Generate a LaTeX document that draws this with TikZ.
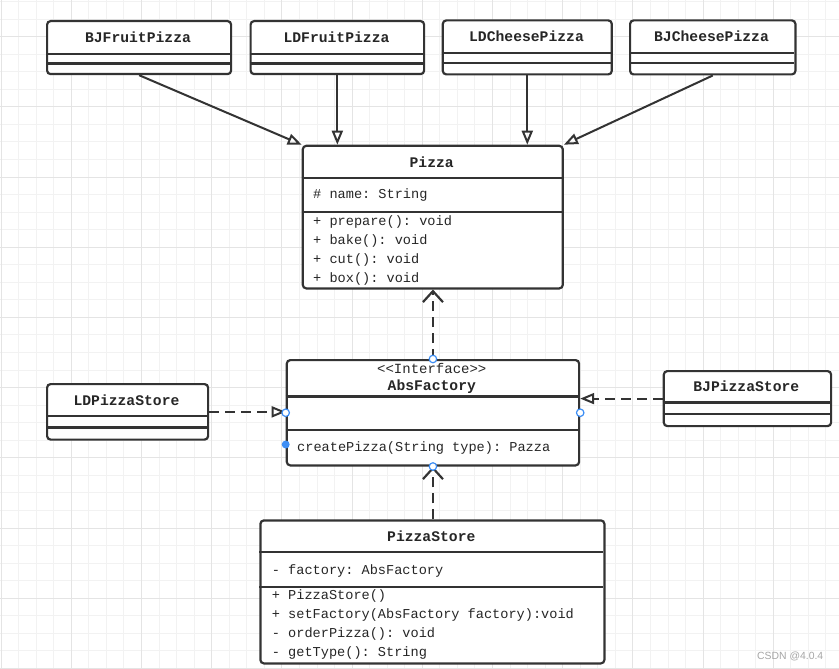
\documentclass[tikz,border=0pt]{standalone}
\usepackage{fontspec}
\setmonofont{Liberation Mono}
\newfontfamily\wmfont{Liberation Sans}
\usetikzlibrary{arrows.meta}
\definecolor{linec}{HTML}{333333}
\definecolor{textc}{HTML}{262626}
\definecolor{gridminor}{HTML}{F2F2F2}
\definecolor{gridmajor}{HTML}{E4E4E4}
\definecolor{handle}{HTML}{3D8EF5}
\definecolor{wmc}{HTML}{A6A6A6}
\tikzset{
 cls/.style={draw=linec, line width=2.2pt, rounded corners=3.5pt, fill=white, inner sep=0pt, anchor=north west},
 sepl/.style={draw=linec, line width=2.2pt},
 ttl/.style={font=\fontsize{14.7}{17}\selectfont\ttfamily\bfseries, text=textc, inner sep=0pt},
 mem/.style={font=\fontsize{13.6}{16}\selectfont\ttfamily, text=textc, inner sep=0pt, anchor=west},
 memc/.style={font=\fontsize{14}{16}\selectfont\ttfamily, text=textc, inner sep=0pt},
 gen/.style={draw=linec, line width=2pt, -{Triangle[open, length=14pt, width=11pt]}},
 real/.style={gen, dash pattern=on 10pt off 6pt},
 dep/.style={draw=linec, line width=2.2pt, dash pattern=on 10pt off 6pt, -{Straight Barb[length=11pt, width=20pt]}},
 hnd/.style={circle, draw=handle, fill=white, line width=1.2pt, minimum size=7.5pt, inner sep=0pt},
 hndf/.style={circle, fill=handle, minimum size=8pt, inner sep=0pt},
}
\begin{document}
\begin{tikzpicture}[x=1pt,y=-1pt]
\useasboundingbox (0,0) rectangle (839,669);
\fill[white] (0,0) rectangle (839,669);
% grid
\foreach \i in {0,...,47}{\draw[gridminor, line width=0.8pt] ({1+17.55*\i},0) -- ({1+17.55*\i},669);}
\foreach \j in {0,...,38}{\draw[gridminor, line width=0.8pt] (0,{1.4+17.55*\j}) -- (839,{1.4+17.55*\j});}
\foreach \i in {0,4,...,44}{\draw[gridmajor, line width=0.8pt] ({1+17.55*\i},0) -- ({1+17.55*\i},669);}
\foreach \j in {2,6,...,38}{\draw[gridmajor, line width=0.8pt] (0,{1.4+17.55*\j}) -- (839,{1.4+17.55*\j});}

% top classes
\node[cls, minimum width=184pt, minimum height=53pt] (bjf) at (46,20) {};
\draw[sepl] (46,54) -- (230,54); \draw[sepl] (46,63.5) -- (230,63.5);
\node[ttl] (bjft) at (138,37.5) {BJFruitPizza};

\node[cls, minimum width=173.5pt, minimum height=53pt] (ldf) at (249.5,20) {};
\draw[sepl] (249.5,54) -- (423,54); \draw[sepl] (249.5,63.5) -- (423,63.5);
\node[ttl] (ldft) at (336.5,37.5) {LDFruitPizza};

\node[cls, minimum width=169pt, minimum height=54pt] (ldc) at (441.7,19.3) {};
\draw[sepl] (441.7,52.7) -- (610.7,52.7); \draw[sepl] (441.7,63.3) -- (610.7,63.3);
\node[ttl] (ldct) at (526.5,36.5) {LDCheesePizza};

\node[cls, minimum width=165.3pt, minimum height=54pt] (bjc) at (629,19.3) {};
\draw[sepl] (629,52.7) -- (794.3,52.7); \draw[sepl] (629,63.3) -- (794.3,63.3);
\node[ttl] (bjct) at (711.5,36.5) {BJCheesePizza};

% Pizza
\node[cls, minimum width=260pt, minimum height=142.6pt] (pizza) at (301.7,144.7) {};
\draw[sepl] (301.7,178.3) -- (561.7,178.3); \draw[sepl] (301.7,211.7) -- (561.7,211.7);
\node[ttl] (pizzat) at (431.7,162) {Pizza};
\node[mem] (pz1) at (313,195) {\# name: String};
\node[mem] (pz2) at (313,221.7) {+ prepare(): void};
\node[mem] (pz3) at (313,240.7) {+ bake(): void};
\node[mem] (pz4) at (313,259.7) {+ cut(): void};
\node[mem] (pz5) at (313,278.5) {+ box(): void};

% AbsFactory
\node[cls, minimum width=292.3pt, minimum height=105.3pt] (absf) at (285.7,359) {};
\draw[sepl] (285.7,396.5) -- (578,396.5); \draw[sepl] (285.7,430) -- (578,430);
\node[memc] (absfs) at (431.8,368.5) {<<Interface>>};
\node[ttl] (absft) at (431.8,387) {AbsFactory};
\node[mem] (absf1) at (297,448) {createPizza(String type): Pazza};

% LDPizzaStore
\node[cls, minimum width=161pt, minimum height=55.5pt] (ldps) at (46,383) {};
\draw[sepl] (46,416) -- (207,416); \draw[sepl] (46,427.5) -- (207,427.5);
\node[ttl] (ldpst) at (126.5,400) {LDPizzaStore};

% BJPizzaStore
\node[cls, minimum width=167.3pt, minimum height=55pt] (bjps) at (662.7,370) {};
\draw[sepl] (662.7,402.5) -- (830,402.5); \draw[sepl] (662.7,414) -- (830,414);
\node[ttl] (bjpst) at (746.3,386.5) {BJPizzaStore};

% PizzaStore
\node[cls, minimum width=344pt, minimum height=143pt] (ps) at (259.3,519.3) {};
\draw[sepl] (259.3,552.3) -- (603.3,552.3); \draw[sepl] (259.3,587.3) -- (603.3,587.3);
\node[ttl] (pst) at (431.3,536) {PizzaStore};
\node[mem] (ps1) at (271.7,570.7) {- factory: AbsFactory};
\node[mem] (ps2) at (271.7,596.2) {+ PizzaStore()};
\node[mem] (ps3) at (271.7,615.2) {+ setFactory(AbsFactory factory):void};
\node[mem] (ps4) at (271.7,634.2) {- orderPizza(): void};
\node[mem] (ps5) at (271.7,653) {- getType(): String};

% generalization arrows
\draw[gen] (bjf.south) -- (pizza.north west);
\draw[gen] (ldf.south) -- (ldf.south |- pizza.north);
\draw[gen] (ldc.south) -- (ldc.south |- pizza.north);
\draw[gen] (bjc.south) -- (pizza.north east);

% realization arrows
\draw[real] (ldps.east) -- (ldps.east -| absf.west);
\draw[real] (bjps.west) -- (bjps.west -| absf.east);

% dependency arrows
\draw[dep] (absf.north) -- (absf.north |- pizza.south);
\draw[dep] (absf.south |- ps.north) -- (absf.south);

% selection handles
\node[hnd] (h1) at (absf.north) {};
\node[hnd] (h2) at (absf.south) {};
\node[hnd] (h3) at (absf.west) {};
\node[hnd] (h4) at (absf.east) {};
\node[hndf] (h5) at (285.7,444.5) {};

% watermark
\node[text=wmc, font=\wmfont\fontsize{10.4}{12}\selectfont, anchor=west, inner sep=0pt] (wm) at (757,656) {CSDN @4.0.4};
\end{tikzpicture}
\end{document}
